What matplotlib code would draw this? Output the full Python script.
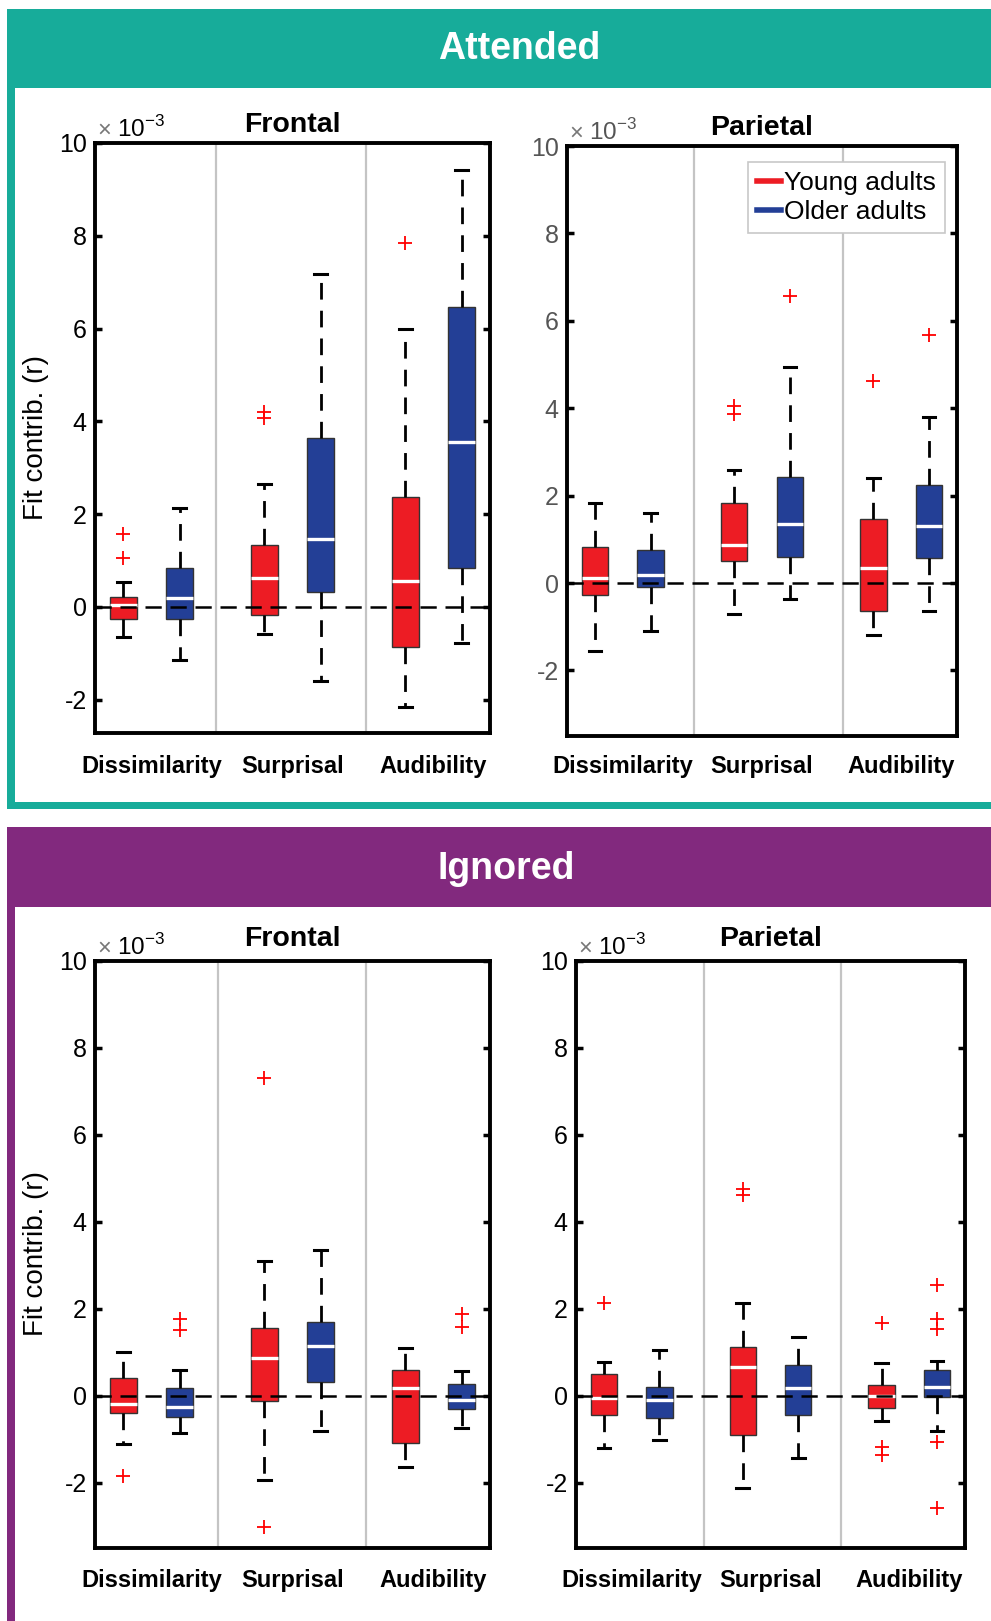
import matplotlib.pyplot as plt
from matplotlib.patches import Rectangle
from matplotlib.lines import Line2D

plt.rcParams['font.family'] = ['Liberation Sans', 'DejaVu Sans']
plt.rcParams['axes.unicode_minus'] = False
plt.rcParams['mathtext.fontset'] = 'custom'
plt.rcParams['mathtext.rm'] = 'Liberation Sans'

W, H = 991, 1621

categories = ['Dissimilarity', 'Surprisal', 'Audibility']
groups = ['Young adults', 'Older adults']

# Box statistics, in units of 1e-3.
# Order: Dissimilarity young/old, Surprisal young/old, Audibility young/old
att_front_lo = [-0.64, -1.14, -0.59, -1.59, -2.15, -0.77]
att_front_q1 = [-0.26, -0.26, -0.17, 0.32, -0.87, 0.83]
att_front_med = [0.04, 0.20, 0.63, 1.47, 0.55, 3.56]
att_front_q3 = [0.22, 0.83, 1.34, 3.64, 2.36, 6.47]
att_front_hi = [0.53, 2.14, 2.64, 7.17, 6.00, 9.42]
att_front_out = [[1.05, 1.57], [], [4.07, 4.20], [], [7.84], []]

att_par_lo = [-1.56, -1.10, -0.70, -0.36, -1.20, -0.63]
att_par_q1 = [-0.28, -0.10, 0.50, 0.60, -0.64, 0.58]
att_par_med = [0.12, 0.18, 0.88, 1.36, 0.35, 1.30]
att_par_q3 = [0.83, 0.76, 1.83, 2.43, 1.46, 2.24]
att_par_hi = [1.84, 1.60, 2.58, 4.94, 2.40, 3.79]
att_par_out = [[], [], [3.87, 4.04], [6.57], [4.63], [5.68]]

ign_front_lo = [-1.11, -0.86, -1.94, -0.82, -1.64, -0.73]
ign_front_q1 = [-0.40, -0.48, -0.12, 0.31, -1.09, -0.31]
ign_front_med = [-0.18, -0.25, 0.86, 1.15, 0.18, -0.09]
ign_front_q3 = [0.42, 0.17, 1.56, 1.70, 0.60, 0.28]
ign_front_hi = [1.01, 0.59, 3.11, 3.36, 1.11, 0.58]
ign_front_out = [[-1.84], [1.52, 1.77], [-3.02, 7.30], [], [], [1.59, 1.88]]

ign_par_lo = [-1.21, -1.02, -2.13, -1.42, -0.58, -0.81]
ign_par_q1 = [-0.45, -0.50, -0.90, -0.44, -0.28, -0.02]
ign_par_med = [-0.04, -0.09, 0.67, 0.19, 0.00, 0.21]
ign_par_q3 = [0.51, 0.21, 1.13, 0.71, 0.25, 0.60]
ign_par_hi = [0.78, 1.06, 2.14, 1.36, 0.75, 0.81]
ign_par_out = [[2.13], [], [4.61, 4.76], [], [-1.36, -1.18, 1.67],
               [-2.59, -1.06, 1.54, 1.77, 2.55]]

yticks = [-2, 0, 2, 4, 6, 8, 10]

RED = '#ED1C24'
BLUE = '#233F96'
TEAL = '#17AC9A'
PURPLE = '#82297E'

fig = plt.figure(figsize=(W / 100, H / 100), dpi=100)


def px_rect(x0, y0, x1, y1, color):
    # rectangle given in pixel coordinates from the top-left corner
    fig.add_artist(Rectangle((x0 / W, 1 - y1 / H), (x1 - x0) / W, (y1 - y0) / H,
                             transform=fig.transFigure, facecolor=color,
                             edgecolor='none', zorder=0))


def px_axes(x0, y0, x1, y1):
    return fig.add_axes([x0 / W, 1 - y1 / H, (x1 - x0) / W, (y1 - y0) / H])


def draw_panel(ax, lo, q1, med, q3, hi, out, title, seps, ymin,
               tick_color='black', mult_color='black', title_pad=8, label_pad=16):
    stats = [dict(whislo=lo[i], q1=q1[i], med=med[i], q3=q3[i],
                  whishi=hi[i], fliers=out[i]) for i in range(6)]
    positions = [c + off for c in (1, 2, 3) for off in (-0.2, 0.2)]

    for s in seps:
        ax.axvline(s, color='#c4c4c4', lw=1.6, zorder=1)

    bp = ax.bxp(stats, positions=positions, widths=0.19, capwidths=0.09,
                patch_artist=True, manage_ticks=False,
                boxprops=dict(edgecolor='#333333', linewidth=1.0),
                whiskerprops=dict(color='black', linewidth=2.0, linestyle=(0, (6, 4))),
                capprops=dict(color='black', linewidth=2.2),
                medianprops=dict(color='white', linewidth=2.4),
                flierprops=dict(marker='+', markeredgecolor='red', markersize=10,
                                markeredgewidth=1.3, linestyle='none'))
    for patch, color in zip(bp['boxes'], [RED, BLUE] * 3):
        patch.set_facecolor(color)

    # zero reference line
    ax.axhline(0, color='black', lw=1.8, dashes=(6.5, 3.5), zorder=5)

    ax.set_xlim(0.6, 3.4)
    ax.set_ylim(ymin, 10)
    ax.set_yticks(yticks)
    ax.set_yticklabels([str(t) for t in yticks])
    ax.tick_params(axis='y', direction='in', left=True, right=True, length=5,
                   width=2.5, labelsize=18, pad=6, labelcolor=tick_color)
    ax.set_xticks([1, 2, 3])
    ax.set_xticklabels(categories, fontweight='bold', fontsize=17)
    ax.tick_params(axis='x', length=0, pad=label_pad)
    for sp in ax.spines.values():
        sp.set_linewidth(2.8)
    ax.set_title(title, fontweight='bold', fontsize=20.5, pad=title_pad)

    # exponent multiplier above the y axis
    ax.annotate('\u00d7', xy=(0, 1), xycoords='axes fraction', xytext=(1.5, 4.5),
                textcoords='offset points', fontsize=17, color='#777777',
                ha='left', va='baseline')
    ax.annotate('10$^{\\mathregular{-3}}$', xy=(0, 1), xycoords='axes fraction',
                xytext=(15.5, 4.5), textcoords='offset points', fontsize=17.5,
                color=mult_color, ha='left', va='baseline')


# section frames
px_rect(7, 9, W, 88, TEAL)
px_rect(7, 88, 15, 809, TEAL)
px_rect(7, 802, W, 809, TEAL)
px_rect(7, 827, W, 907, PURPLE)
px_rect(7, 907, 15, H, PURPLE)

fig.text(519 / W, 1 - 49 / H, 'Attended', color='white', fontsize=27,
         fontweight='bold', ha='center', va='center')
fig.text(506 / W, 1 - 869 / H, 'Ignored', color='white', fontsize=27,
         fontweight='bold', ha='center', va='center')

ax1 = px_axes(95, 143, 490, 733)
draw_panel(ax1, att_front_lo, att_front_q1, att_front_med, att_front_q3,
           att_front_hi, att_front_out, 'Frontal', (1.46, 2.52), -2.72)

ax2 = px_axes(567, 146, 957, 736)
draw_panel(ax2, att_par_lo, att_par_q1, att_par_med, att_par_q3,
           att_par_hi, att_par_out, 'Parietal', (1.51, 2.58), -3.5,
           tick_color='#555555', mult_color='#555555', label_pad=14)

ax3 = px_axes(95, 961, 490, 1548)
draw_panel(ax3, ign_front_lo, ign_front_q1, ign_front_med, ign_front_q3,
           ign_front_hi, ign_front_out, 'Frontal', (1.47, 2.52), -3.5,
           title_pad=11, label_pad=15)

ax4 = px_axes(576, 961, 965, 1548)
draw_panel(ax4, ign_par_lo, ign_par_q1, ign_par_med, ign_par_q3,
           ign_par_hi, ign_par_out, 'Parietal', (1.52, 2.51), -3.5,
           title_pad=11, label_pad=15)

for yc in (438, 1254):
    fig.text(36 / W, 1 - yc / H, 'Fit contrib. (r)', rotation=90, fontsize=20,
             ha='center', va='center')

handles = [Line2D([], [], color=RED, lw=4), Line2D([], [], color=BLUE, lw=4)]
leg = ax2.legend(handles, groups, loc='upper right', bbox_to_anchor=(0.969, 0.973),
                 borderaxespad=0, fontsize=19, handlelength=0.9, handletextpad=0.1,
                 labelspacing=0.18, borderpad=0.35, fancybox=False,
                 edgecolor='#c8c8c8', framealpha=1)
leg.get_frame().set_linewidth(1.2)

fig.savefig('out.png', dpi=100)
